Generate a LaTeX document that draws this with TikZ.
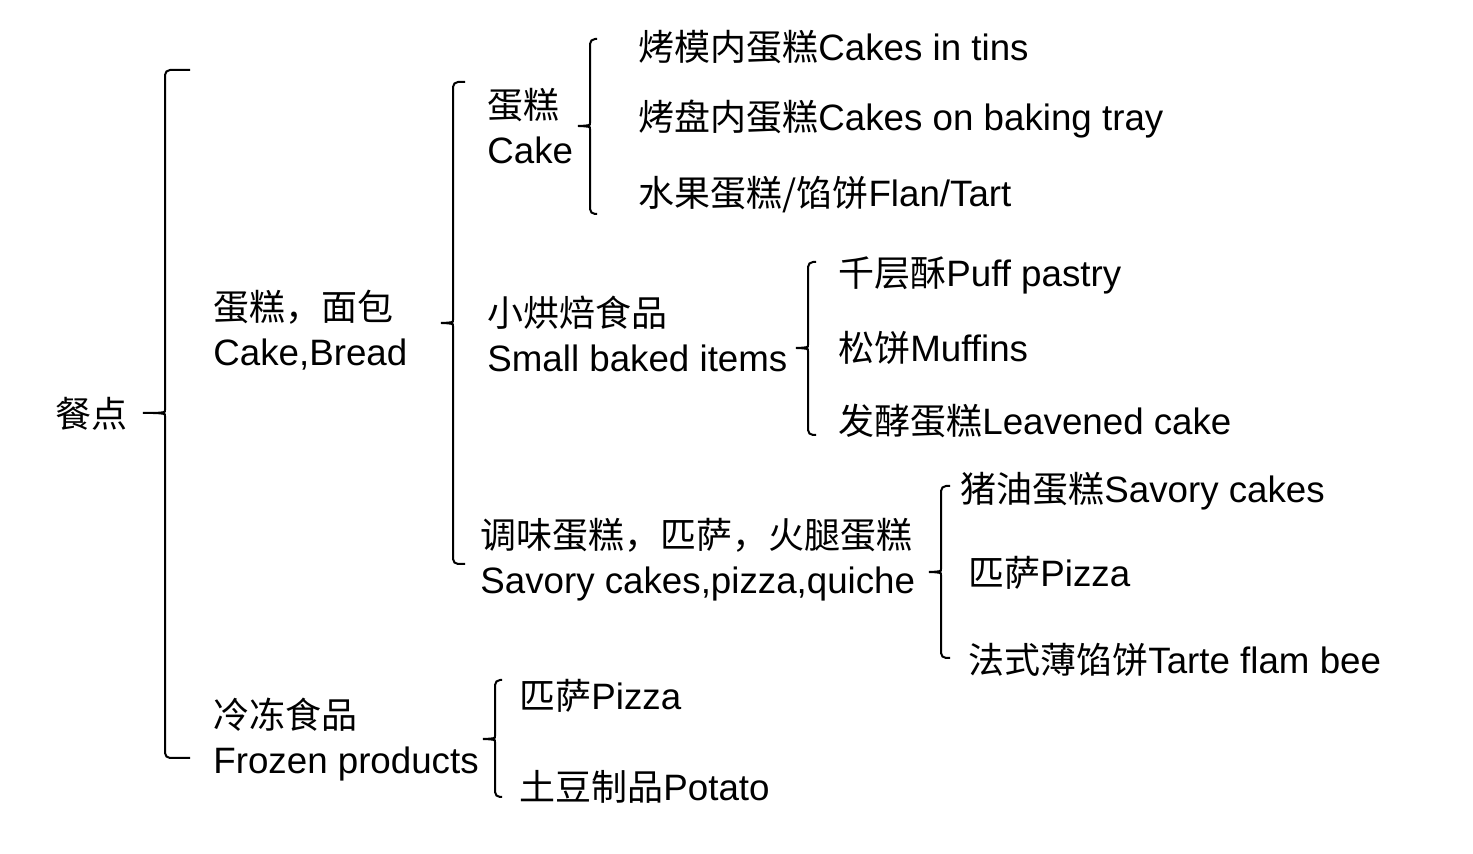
\documentclass[tikz,border=0pt]{standalone}
\usepackage{fontspec}
\setmainfont{Liberation Sans}[Scale=1.02]
\newfontfamily\cjk{Noto Sans CJK SC}
\newcommand{\zh}[1]{{\cjk #1}}
\usetikzlibrary{positioning}
% x, top, bottom, middle, cusp, tip
\newcommand{\grouping}[6]{%
  \draw [bracket] (#6,#2) -- (#1,#2) -- (#1,#4-8) .. controls (#1,#4-1) .. (#1-7,#4)
    -- (#5,#4) -- (#1-7,#4) .. controls (#1,#4+1) .. (#1,#4+8) -- (#1,#3) -- (#6,#3);}

\begin{document}
\begin{tikzpicture}[x=0.5pt, y=-0.5pt,
  item/.style={anchor=west, inner sep=0pt, align=left, font=\fontsize{18}{22.5}\selectfont},
  bracket/.style={line width=1pt, rounded corners=2.5pt}]

\useasboundingbox (0,0) rectangle (1473,854);

% level 0
\node [item] (meal) at (55,414) {\zh{餐点}};

% level 1
\node [item] (bakery) at (213,330) {\zh{蛋糕，面包}\\Cake,Bread};
\node [item] (frozen) at (213,740) {\zh{冷冻食品}\\Frozen products};

% level 2
\node [item] (cake)   at (487,126) {\zh{蛋糕}\\Cake};
\node [item] (small)  at (487,334) {\zh{小烘焙食品}\\Small baked items};
\node [item] (savory) at (480,560) {\zh{调味蛋糕，匹萨，火腿蛋糕}\\Savory cakes,pizza,quiche};
\node [item] (frozen-1) at (519,696) {\zh{匹萨}Pizza};
\node [item] (frozen-2) at (519,787) {\zh{土豆制品}Potato};

% level 3
\node [item] (cake-1) at (638,47)  {\zh{烤模内蛋糕}Cakes in tins};
\node [item] (cake-2) at (638,119) {\zh{烤盘内蛋糕}Cakes on baking tray};
\node [item] (cake-3) at (638,195) {\zh{水果蛋糕/馅饼}Flan/Tart};

\node [item] (small-1) at (838,275) {\zh{千层酥}Puff pastry};
\node [item] (small-2) at (838,348) {\zh{松饼}Muffins};
\node [item] (small-3) at (838,421) {\zh{发酵蛋糕}Leavened cake};

\node [item] (savory-1) at (960,491) {\zh{猪油蛋糕}Savory cakes};
\node [item] (savory-2) at (968,573) {\zh{匹萨}Pizza};
\node [item] (savory-3) at (968,660) {\zh{法式薄馅饼}Tarte flam bee};

% brackets
\grouping{165}{70}{758}{413}{140}{190}
\grouping{453}{82}{564}{323}{440}{465}
\grouping{590}{39}{214}{126}{580}{597}
\grouping{808}{262}{435}{348}{800}{816}
\grouping{941}{486}{658}{572}{932}{950}
\grouping{495}{680}{797}{739}{485}{502}

\end{tikzpicture}
\end{document}
